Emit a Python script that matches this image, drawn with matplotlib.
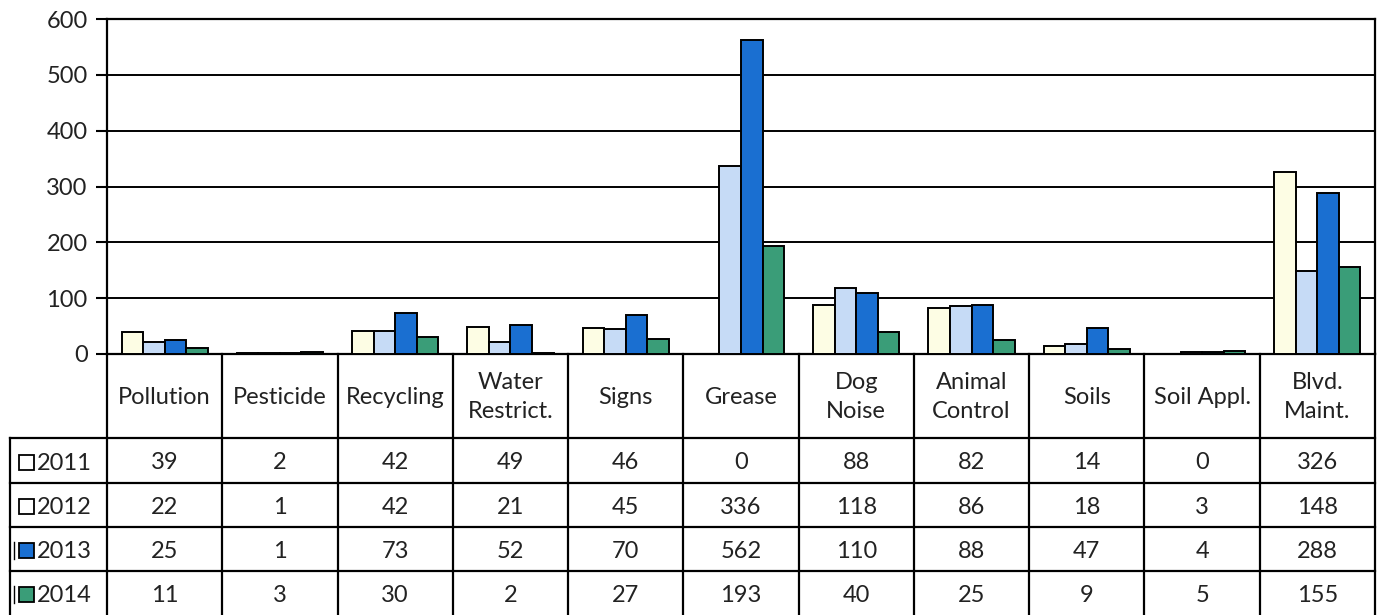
import matplotlib.pyplot as plt
from matplotlib.patches import Rectangle
import numpy as np

plt.rcParams['font.family'] = ['Lato', 'DejaVu Sans']

categories = ['Pollution', 'Pesticide', 'Recycling', 'Water\nRestrict.', 'Signs',
              'Grease', 'Dog\nNoise', 'Animal\nControl', 'Soils', 'Soil Appl.',
              'Blvd.\nMaint.']
years = ['2011', '2012', '2013', '2014']
v2011 = [39, 2, 42, 49, 46, 0, 88, 82, 14, 0, 326]
v2012 = [22, 1, 42, 21, 45, 336, 118, 86, 18, 3, 148]
v2013 = [25, 1, 73, 52, 70, 562, 110, 88, 47, 4, 288]
v2014 = [11, 3, 30, 2, 27, 193, 40, 25, 9, 5, 155]
y_ticks = [0, 100, 200, 300, 400, 500, 600]

series = [v2011, v2012, v2013, v2014]
colors = ['#FDFDE4', '#C6DBF6', '#1A6FD1', '#3A9D78']
key_colors = ['white', 'white', '#1A6FD1', '#3A9D78']
ink = '#222222'
fs = 17

W, H = 1384, 615
fig = plt.figure(figsize=(W / 100, H / 100), dpi=100)

# bar chart area
ax = fig.add_axes([107 / W, 1 - 354 / H, 1268 / W, 335 / H])
n = len(categories)
x = np.arange(n) + 0.5
bw = 0.187
for k, vals in enumerate(series):
    ax.bar(x + (k - 1.5) * bw, vals, width=bw, color=colors[k],
           edgecolor='black', linewidth=1.4, zorder=3)

ax.set_xlim(0, n)
ax.set_ylim(0, 600)
ax.set_yticks(y_ticks)
ax.set_xticks([])
ax.grid(axis='y', color='black', linewidth=1.4, zorder=1)
for s in ax.spines.values():
    s.set_linewidth(1.6)
    s.set_color('black')
ax.tick_params(axis='y', direction='out', length=8, width=1.5, pad=6,
               labelsize=fs, labelcolor=ink)

# data table under the bars, same x scale as the bars
px = 1268 / n
left = -97 / px
tab = fig.add_axes([10 / W, 0, 1365 / W, 261 / H])
tab.set_xlim(left, n)
tab.set_ylim(261, 0)
tab.axis('off')

row_edges = [84, 129, 173, 217, 261]
lw = 1.6
for i in range(n + 1):
    tab.plot([i, i], [0, 261], color='black', lw=lw, clip_on=False)
tab.plot([left, left], [84, 261], color='black', lw=lw, clip_on=False)
for y in row_edges[:-1]:
    tab.plot([left, n], [y, y], color='black', lw=lw, clip_on=False)

for i, name in enumerate(categories):
    tab.text(i + 0.5, 43, name, ha='center', va='center', fontsize=fs,
             color=ink, linespacing=1.45)

for k, vals in enumerate(series):
    yc = (row_edges[k] + row_edges[k + 1]) / 2 + 2
    for i, v in enumerate(vals):
        tab.text(i + 0.5, yc, str(v), ha='center', va='center',
                 fontsize=fs, color=ink)
    tab.add_patch(Rectangle((-0.765, yc - 8), 15 / px, 15,
                            facecolor=key_colors[k], edgecolor='black',
                            lw=1.3, clip_on=False))
    if k >= 2:
        tab.plot([-0.805, -0.805], [yc - 9, yc + 8], color='black', lw=1,
                 clip_on=False)
    tab.text(-0.61, yc + 1, years[k], ha='left', va='center',
             fontsize=fs, color=ink)

fig.savefig('out.png', dpi=100)
